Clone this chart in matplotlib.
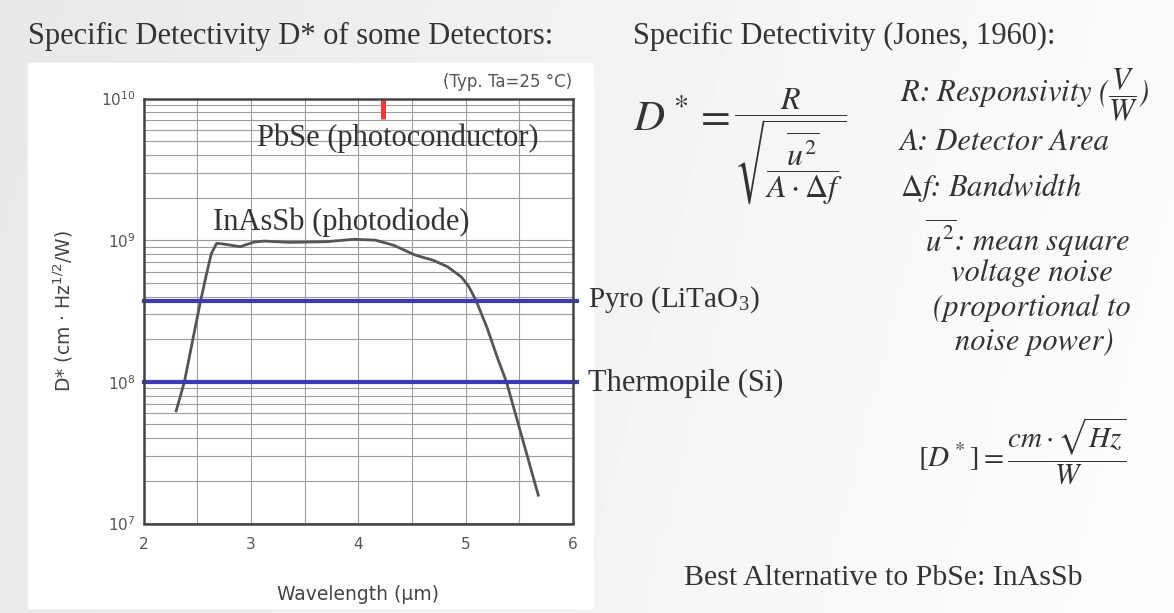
import numpy as np
import matplotlib
matplotlib.use('Agg')
import matplotlib.pyplot as plt
from matplotlib.ticker import LogLocator, MultipleLocator, NullFormatter
from matplotlib.patches import Rectangle

matplotlib.rc('mathtext', fontset='stix')

W, H = 1174, 613

# InAsSb photodiode, D* vs wavelength
wavelength = [2.30, 2.38, 2.42, 2.48, 2.53, 2.58, 2.63, 2.68, 2.74, 2.90, 3.03,
              3.12, 3.36, 3.70, 3.96, 4.16, 4.33, 4.53, 4.70, 4.83, 4.96, 5.03,
              5.10, 5.20, 5.30, 5.38, 5.68]
dstar = [6.1e7, 1.0e8, 1.42e8, 2.4e8, 3.7e8, 5.5e8, 8.0e8, 9.5e8, 9.4e8, 9.0e8, 9.7e8,
         9.85e8, 9.65e8, 9.75e8, 1.015e9, 1.0e9, 9.2e8, 7.85e8, 7.2e8, 6.5e8, 5.5e8, 4.7e8,
         3.7e8, 2.4e8, 1.45e8, 1.0e8, 1.55e7]

# flat D* levels of the other detectors
pyro_level = 3.73e8
thermopile_level = 1.0e8
# PbSe marker at the top of the chart
pbse_wavelength = 4.23
pbse_range = [7.2e9, 1.0e10]


def px(x, y):
    return x / W, 1 - y / H


fig = plt.figure(figsize=(W / 100, H / 100), dpi=100)

# slide background: light grey, brighter toward the right
bg = fig.add_axes([0, 0, 1, 1])
grad = np.linspace(0.91, 0.985, 256)[None, :] * np.ones((64, 1))
grad = grad + np.linspace(0.0, 0.01, 64)[:, None]
bg.imshow(grad, cmap='gray', vmin=0, vmax=1, aspect='auto', extent=[0, 1, 0, 1])
bg.add_patch(Rectangle(px(28, 608), (593 - 28) / W, (608 - 63) / H, color='white'))
bg.set_xlim(0, 1)
bg.set_ylim(0, 1)
bg.axis('off')

ax = fig.add_axes([143.6 / W, 1 - 523.5 / H, (573 - 143.6) / W, (523.5 - 98.5) / H])
ax.set_xlim(2, 6)
ax.set_yscale('log')
ax.set_ylim(1e7, 1e10)
ax.xaxis.set_major_locator(MultipleLocator(1))
ax.xaxis.set_minor_locator(MultipleLocator(0.5))
ax.yaxis.set_major_locator(LogLocator(base=10))
ax.yaxis.set_minor_locator(LogLocator(base=10, subs=np.arange(2, 10)))
ax.yaxis.set_minor_formatter(NullFormatter())
ax.grid(which='both', color='#9c9c9c', lw=0.8)
ax.set_axisbelow(True)
for s in ax.spines.values():
    s.set_color('#444444')
    s.set_linewidth(1.8)
ax.tick_params(which='both', length=0, labelcolor='#555555', labelsize=11)
ax.tick_params(axis='x', pad=10)
ax.tick_params(axis='y', pad=6)

ax.plot(wavelength, dstar, color='#555555', lw=2.0, solid_capstyle='butt')
ax.plot([2, 6.04], [pyro_level, pyro_level], color='#3b3bb5', lw=3.0, clip_on=False)
ax.plot([2, 6.04], [thermopile_level, thermopile_level], color='#3b3bb5', lw=3.0, clip_on=False)
ax.plot([pbse_wavelength, pbse_wavelength], pbse_range, color='#f43838', lw=3.6,
        solid_capstyle='butt')

serif = 'Liberation Serif'
dark = '#333333'
fig.text(*px(28, 36), 'Specific Detectivity D* of some Detectors:', family=serif,
         fontsize=22, color=dark, va='center')
fig.text(*px(633, 36), 'Specific Detectivity (Jones, 1960):', family=serif,
         fontsize=22, color=dark, va='center')

fig.text(*px(572, 82), '(Typ. Ta=25 °C)', fontsize=12, color='#555555',
         ha='right', va='center')
fig.text(*px(358, 594), 'Wavelength (μm)', fontsize=13.5, color='#444444',
         ha='center', va='center')
fig.text(*px(62, 311), r'D* (cm · Hz$^{\mathregular{1/2}}$/W)', fontsize=13.5,
         color='#444444', ha='center', va='center', rotation=90)

fig.text(*px(257, 138), 'PbSe (photoconductor)', family=serif, fontsize=22,
         color=dark, va='center')
fig.text(*px(213, 222), 'InAsSb (photodiode)', family=serif, fontsize=22,
         color=dark, va='center')
fig.text(*px(588, 300), r'Pyro (LiTaO$_{\mathregular{3}}$)', family=serif, fontsize=21,
         color=dark, va='center')
fig.text(*px(588, 383), 'Thermopile (Si)', family=serif, fontsize=22,
         color=dark, va='center')

# definition of D*
fig.text(*px(633, 131), r'$D^* =$', fontsize=31, color=dark, va='baseline')
fig.text(*px(790, 122), r'$\dfrac{R}{\sqrt{\dfrac{\overline{u^2}}{A\cdot\Delta f}}}$',
         fontsize=23, color=dark, va='baseline', ha='center')

ital = dict(family='STIXGeneral', style='italic', fontsize=22, color=dark, va='center')
fig.text(*px(900, 95), r'R: Responsivity ($\dfrac{V}{W}$)', **ital)
fig.text(*px(900, 142), 'A: Detector Area', **ital)
fig.text(*px(900, 187), r'$\Delta f$: Bandwidth', **ital)
fig.text(*px(1028, 238), r'$\overline{u^2}$: mean square', ha='center', **ital)
fig.text(*px(1032, 273), 'voltage noise', ha='center', **ital)
fig.text(*px(1032, 308), '(proportional to', ha='center', **ital)
fig.text(*px(1034, 342), 'noise power)', ha='center', **ital)

fig.text(*px(918, 466), r'$[D^*] = \dfrac{cm\cdot\sqrt{Hz}}{W}$', fontsize=21,
         color=dark, va='baseline')

fig.text(*px(684, 578), 'Best Alternative to PbSe: InAsSb', family=serif, fontsize=21.5,
         color=dark, va='center')

fig.savefig('out.png', dpi=100)
